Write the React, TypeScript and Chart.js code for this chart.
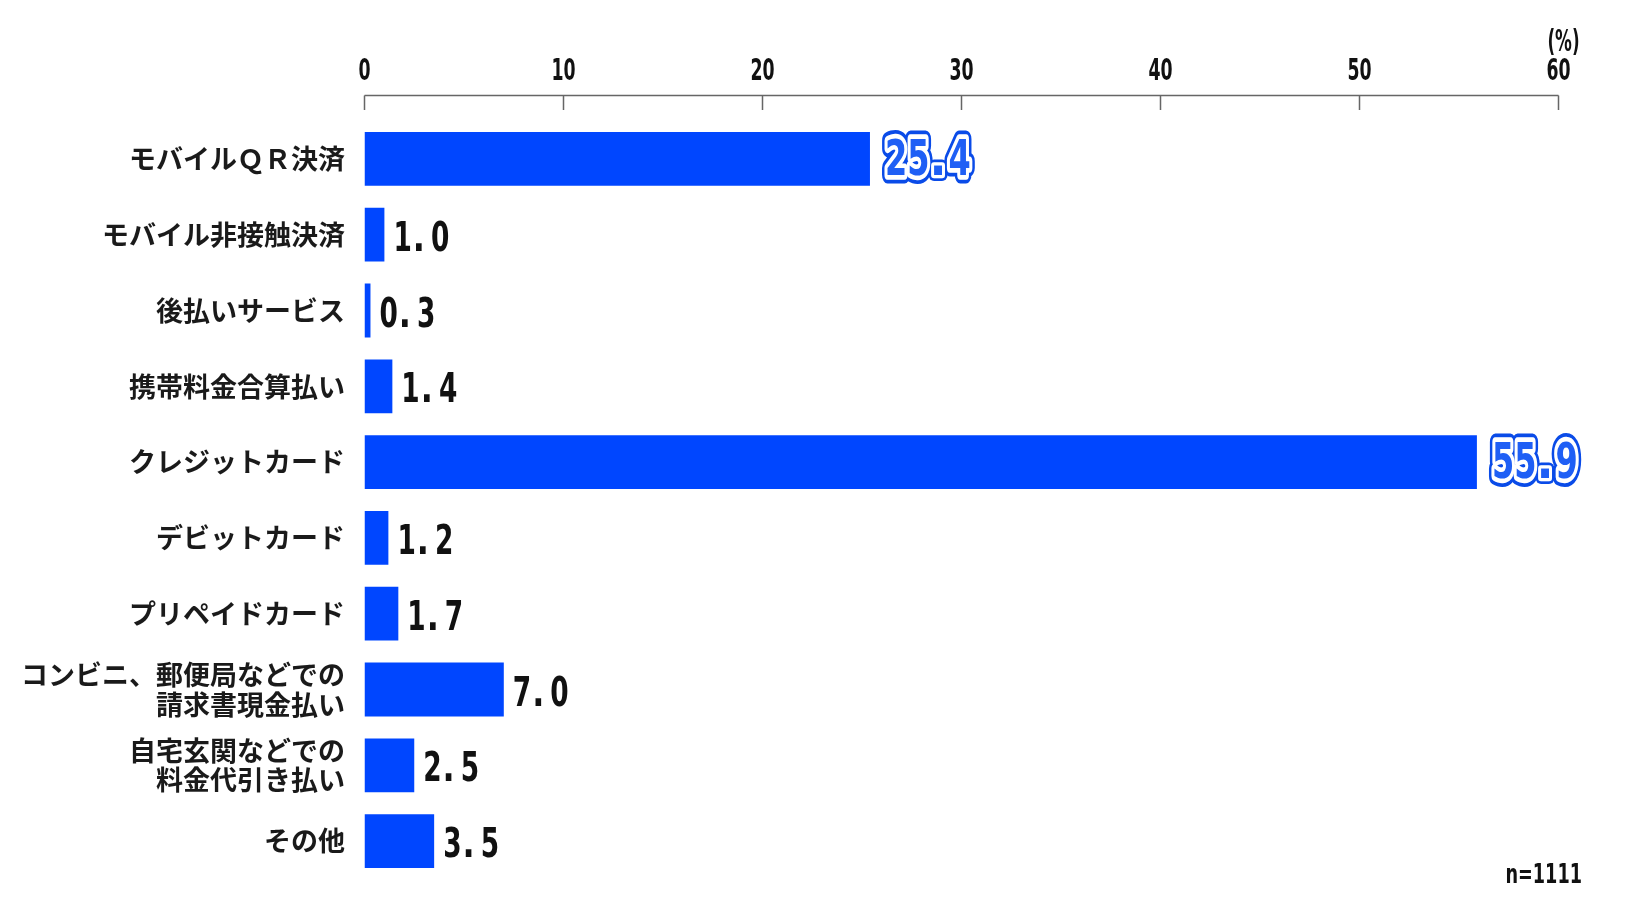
import { useEffect, useRef } from 'react';
import { Chart, registerables } from 'chart.js';

Chart.register(...registerables);

const categories: (string | string[])[] = [
  'モバイルＱＲ決済',
  'モバイル非接触決済',
  '後払いサービス',
  '携帯料金合算払い',
  'クレジットカード',
  'デビットカード',
  'プリペイドカード',
  ['コンビニ、郵便局などでの', '請求書現金払い'],
  ['自宅玄関などでの', '料金代引き払い'],
  'その他',
];

const values = [25.4, 1.0, 0.3, 1.4, 55.9, 1.2, 1.7, 7.0, 2.5, 3.5];
const outlinedLabels = [true, false, false, false, true, false, false, false, false, false];
const xTicks = [0, 10, 20, 30, 40, 50, 60];
const unitLabel = '(%)';
const sampleLabel = 'n=1111';

const BAR_COLOR = '#0046ff';
const NUM_FONT = "'DejaVu Sans'";

function condensed(
  ctx: CanvasRenderingContext2D,
  text: string,
  x: number,
  y: number,
  sx: number,
  align: CanvasTextAlign,
) {
  ctx.save();
  ctx.translate(x, y);
  ctx.scale(sx, 1);
  ctx.textAlign = align;
  ctx.fillText(text, 0, 0);
  ctx.restore();
}

// draws a number char by char; digits condensed, period kept squarer
function drawNumber(
  ctx: CanvasRenderingContext2D,
  text: string,
  x: number,
  y: number,
  digitSx: number,
  dotSx: number,
  digitGap: number,
  dotGap: number,
  mode: 'fill' | 'outline',
) {
  const pass = (fn: (ch: string, sx: number) => void) => {
    let cursor = x;
    for (const ch of text) {
      const isDot = ch === '.';
      const sx = isDot ? dotSx : digitSx;
      const w = ctx.measureText(ch).width * sx;
      ctx.save();
      ctx.translate(cursor, y);
      ctx.scale(sx, 1);
      ctx.textAlign = 'left';
      fn(ch, sx);
      ctx.restore();
      cursor += w + (isDot ? dotGap : digitGap);
    }
  };
  if (mode === 'outline') {
    pass((ch, sx) => {
      ctx.lineJoin = 'round';
      ctx.strokeStyle = '#0a4be8';
      ctx.lineWidth = 11 / sx;
      ctx.strokeText(ch, 0, 0);
    });
    pass((ch, sx) => {
      ctx.lineJoin = 'round';
      ctx.strokeStyle = '#ffffff';
      ctx.lineWidth = 6 / sx;
      ctx.strokeText(ch, 0, 0);
    });
  }
  pass((ch) => {
    ctx.fillText(ch, 0, 0);
  });
}

const decorPlugin = {
  id: 'decor',
  afterDatasetsDraw(chart: any) {
    const ctx: CanvasRenderingContext2D = chart.ctx;
    const xs = chart.scales.x;
    const area = chart.chartArea;
    const lineY = area.top - 25.5;

    // axis line + ticks
    ctx.save();
    ctx.strokeStyle = '#666';
    ctx.lineWidth = 1.5;
    ctx.beginPath();
    ctx.moveTo(xs.getPixelForValue(xTicks[0]), lineY);
    ctx.lineTo(xs.getPixelForValue(xTicks[xTicks.length - 1]), lineY);
    xTicks.forEach((t) => {
      const px = xs.getPixelForValue(t);
      ctx.moveTo(px, lineY);
      ctx.lineTo(px, lineY + 14.5);
    });
    ctx.stroke();
    ctx.restore();

    // tick labels
    ctx.save();
    ctx.fillStyle = '#111';
    ctx.font = `bold 31px ${NUM_FONT}`;
    ctx.textBaseline = 'alphabetic';
    xTicks.forEach((t) => {
      condensed(ctx, String(t), xs.getPixelForValue(t), area.top - 41, 0.56, 'center');
    });
    ctx.font = `bold 30px ${NUM_FONT}`;
    condensed(ctx, unitLabel, xs.getPixelForValue(60) + 5, area.top - 70, 0.56, 'center');
    ctx.font = `bold 26px ${NUM_FONT}`;
    condensed(ctx, sampleLabel, chart.width - 46, area.bottom + 4, 0.68, 'right');
    ctx.restore();

    // value labels
    const meta = chart.getDatasetMeta(0);
    meta.data.forEach((bar: any, i: number) => {
      const txt = values[i].toFixed(1);
      ctx.save();
      ctx.textBaseline = 'alphabetic';
      if (outlinedLabels[i]) {
        ctx.font = `bold 50px ${NUM_FONT}`;
        ctx.fillStyle = '#1f5ff5';
        drawNumber(ctx, txt, bar.x + 15, bar.y + 16, 0.64, 0.9, 0, 2, 'outline');
      } else {
        ctx.font = `bold 40px ${NUM_FONT}`;
        ctx.fillStyle = '#111';
        drawNumber(ctx, txt, bar.x + 9, bar.y + 16, 0.66, 0.8, 1, 6, 'fill');
      }
      ctx.restore();
    });
  },
};

export default function App() {
  const ref = useRef<HTMLCanvasElement | null>(null);

  useEffect(() => {
    document.body.style.margin = '0';
    const canvas = ref.current!;
    const chart = new Chart(canvas, {
      type: 'bar',
      data: {
        labels: categories,
        datasets: [
          {
            data: values,
            backgroundColor: BAR_COLOR,
            borderWidth: 0,
            categoryPercentage: 1,
            barPercentage: 0.71,
          },
        ],
      },
      options: {
        indexAxis: 'y',
        animation: false,
        responsive: false,
        devicePixelRatio: 1,
        layout: { padding: { left: 0, right: 69.5, top: 0, bottom: 42 } },
        plugins: {
          legend: { display: false },
          tooltip: { enabled: false },
        },
        scales: {
          x: {
            position: 'top',
            min: 0,
            max: 60,
            ticks: { display: false, stepSize: 10 },
            grid: { display: false, drawTicks: false },
            border: { display: false },
            afterFit: (s: any) => {
              s.height = 121;
            },
          },
          y: {
            ticks: {
              color: '#1a1a1a',
              padding: 19.5,
              font: { family: "'Noto Sans CJK JP'", size: 27, weight: 'bold', lineHeight: 1.1 },
            },
            grid: { display: false, drawTicks: false },
            border: { display: false },
            afterFit: (s: any) => {
              s.width = 364.5;
            },
          },
        },
      },
      plugins: [decorPlugin],
    });
    return () => chart.destroy();
  }, []);

  return (
    <div style={{ width: 1628, height: 921, background: '#fff' }}>
      <canvas ref={ref} width={1628} height={921} style={{ display: 'block' }} />
    </div>
  );
}
